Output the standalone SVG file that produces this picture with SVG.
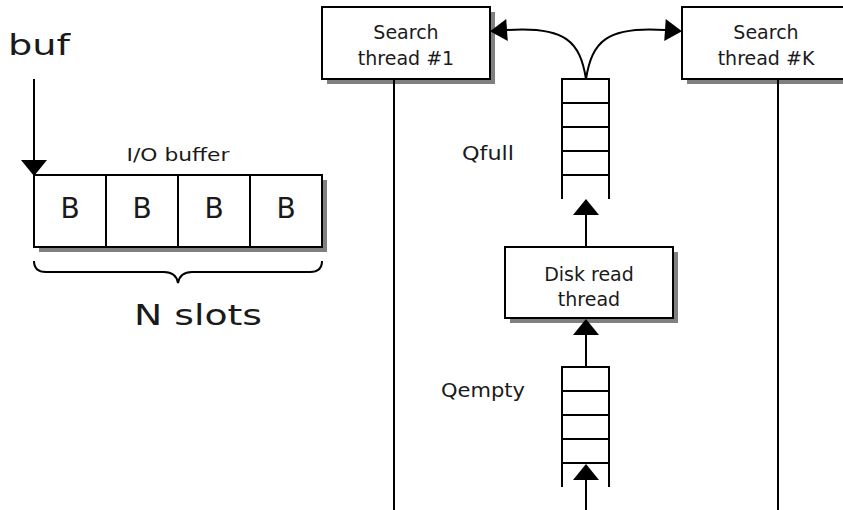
<svg xmlns="http://www.w3.org/2000/svg" width="843" height="510" viewBox="0 0 843 510">
<style>
  .box { fill: #ffffff; stroke: #000; stroke-width: 2; }
  .shadow { fill: #808080; stroke: none; }
  .ln { fill: none; stroke: #000; stroke-width: 2; }
  .t { font-family: "DejaVu Sans", "Liberation Sans", sans-serif; fill: #1a1a1a; text-anchor: middle; }
  .lbl { font-size: 19px; }
</style>
<defs>
  <marker id="ah" markerUnits="userSpaceOnUse" markerWidth="17" markerHeight="26" refX="0" refY="13" orient="auto" overflow="visible">
    <path d="M0,0 L16,13 L0,26 z" fill="#000"/>
  </marker>
  <marker id="ahs" markerUnits="userSpaceOnUse" markerWidth="18" markerHeight="22" refX="0" refY="11" orient="auto" overflow="visible">
    <path d="M0,0 L17,11 L0,22 z" fill="#000"/>
  </marker>
</defs>

<rect width="843" height="510" fill="#ffffff"/>

<!-- buf pointer -->
<g id="buf">
  <text class="t" x="39" y="55" font-size="29" textLength="62" lengthAdjust="spacingAndGlyphs">buf</text>
</g>

<!-- I/O buffer -->
<g id="io-buffer">
  <text class="t" x="178" y="161" font-size="17" textLength="103" lengthAdjust="spacingAndGlyphs">I/O buffer</text>
  <rect class="shadow" x="39" y="180" width="288" height="72"/>
  <rect class="box" x="34" y="175" width="288" height="72"/>
  <line class="ln" x1="106" y1="175" x2="106" y2="247"/>
  <line class="ln" x1="178" y1="175" x2="178" y2="247"/>
  <line class="ln" x1="250" y1="175" x2="250" y2="247"/>
  <text class="t" x="70" y="218" font-size="28">B</text>
  <text class="t" x="142" y="218" font-size="28">B</text>
  <text class="t" x="214" y="218" font-size="28">B</text>
  <text class="t" x="286" y="218" font-size="28">B</text>
</g>

<!-- brace -->
<g id="brace">
  <path class="ln" d="M34,261 Q34,272 46,272 L164,272 Q176,272 178,283 Q180,272 192,272 L310,272 Q322,272 322,261"/>
  <text class="t" x="198" y="325" font-size="29" textLength="128" lengthAdjust="spacingAndGlyphs">N slots</text>
</g>

<!-- Search thread #1 -->
<g id="search1">
  <rect class="shadow" x="327" y="12" width="168" height="72"/>
  <rect class="box" x="322" y="7" width="168" height="72"/>
  <text class="t lbl" x="406" y="39">Search</text>
  <text class="t lbl" x="406" y="65">thread #1</text>
</g>

<!-- Search thread #K -->
<g id="searchK">
  <rect class="shadow" x="687" y="12" width="168" height="72"/>
  <rect class="box" x="682" y="7" width="168" height="72"/>
  <text class="t lbl" x="766" y="39">Search</text>
  <text class="t lbl" x="766" y="65">thread #K</text>
</g>

<!-- Qfull -->
<g id="qfull">
  <text class="t lbl" x="488" y="160" textLength="52" lengthAdjust="spacingAndGlyphs">Qfull</text>
  <path class="ln" d="M562,199 L562,79 L609,79 L609,199"/>
  <line class="ln" x1="562" y1="103" x2="609" y2="103"/>
  <line class="ln" x1="562" y1="127" x2="609" y2="127"/>
  <line class="ln" x1="562" y1="151" x2="609" y2="151"/>
  <line class="ln" x1="562" y1="175" x2="609" y2="175"/>
</g>

<!-- Disk read thread -->
<g id="diskread">
  <rect class="shadow" x="510" y="252" width="168" height="71"/>
  <rect class="box" x="505" y="247" width="168" height="71"/>
  <text class="t lbl" x="589" y="281">Disk read</text>
  <text class="t lbl" x="589" y="306">thread</text>
</g>

<!-- Qempty -->
<g id="qempty">
  <text class="t lbl" x="483" y="397" textLength="84" lengthAdjust="spacingAndGlyphs">Qempty</text>
  <path class="ln" d="M562,487 L562,367 L609,367 L609,487"/>
  <line class="ln" x1="562" y1="391" x2="609" y2="391"/>
  <line class="ln" x1="562" y1="415" x2="609" y2="415"/>
  <line class="ln" x1="562" y1="439" x2="609" y2="439"/>
  <line class="ln" x1="562" y1="463" x2="609" y2="463"/>
</g>

<!-- connectors -->
<g id="connectors">
  <line class="ln" x1="34" y1="79" x2="34" y2="160" marker-end="url(#ah)"/>
  <line class="ln" x1="394" y1="79" x2="394" y2="510"/>
  <line class="ln" x1="778" y1="79" x2="778" y2="510"/>
  <path class="ln" d="M586,79 C580,42 566,26 507,30" marker-end="url(#ahs)"/>
  <path class="ln" d="M586,79 C592,42 606,26 665,30" marker-end="url(#ahs)"/>
  <line class="ln" x1="586" y1="247" x2="586" y2="215" marker-end="url(#ah)"/>
  <line class="ln" x1="586" y1="367" x2="586" y2="335" marker-end="url(#ah)"/>
  <line class="ln" x1="586" y1="510" x2="586" y2="480" marker-end="url(#ah)"/>
</g>
</svg>
